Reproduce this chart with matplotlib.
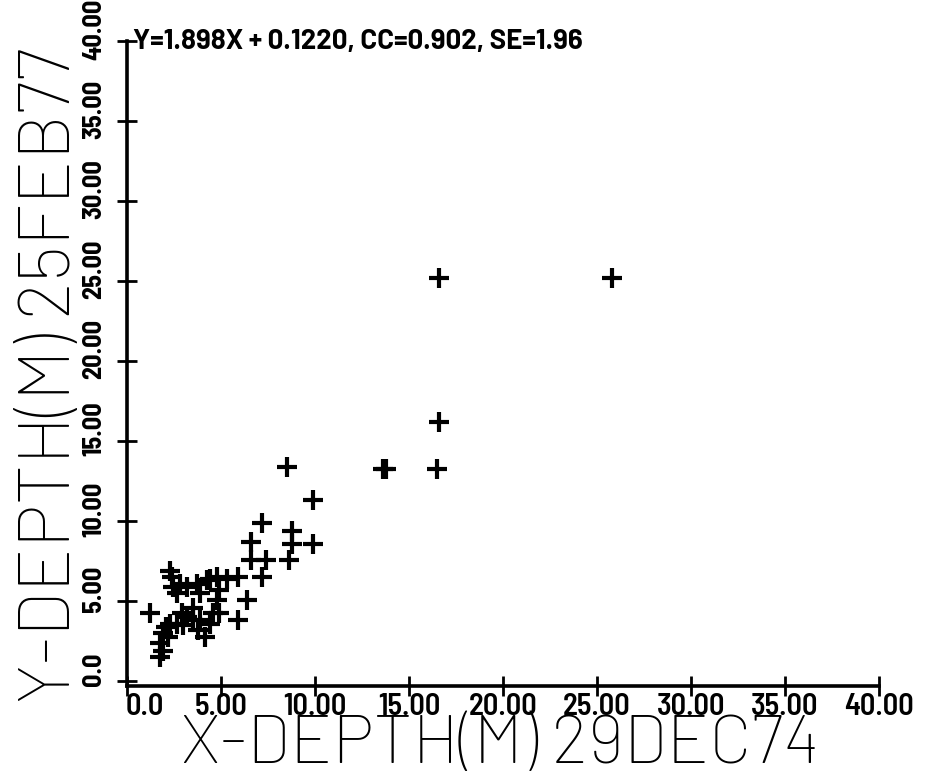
import matplotlib
matplotlib.use("Agg")
import matplotlib.pyplot as plt
import matplotlib.transforms as mtransforms

title_text = "Y=1.898X + 0.1220, CC=0.902, SE=1.96"
x_label = "X-DEPTH(M) 29DEC74"
y_label = "Y-DEPTH(M) 25FEB77"
tick_values = [0, 5, 10, 15, 20, 25, 30, 35, 40]
tick_labels = ["0.0", "5.00", "10.00", "15.00", "20.00", "25.00", "30.00", "35.00", "40.00"]

x_vals = [16.6, 25.8, 16.6, 16.5, 13.6, 13.8, 8.5, 9.9, 9.9, 8.8, 8.8, 8.6, 7.2, 6.6,
          6.6, 7.4, 7.2, 5.9, 6.4, 5.9, 4.8, 4.4, 4.9, 4.8, 4.6, 4.9, 4.4, 4.15, 3.8,
          3.7, 3.2, 2.8, 2.4, 2.3, 2.45, 2.65, 3.5, 3.5, 2.9, 2.65, 2.3, 2.1, 1.9, 2.2,
          1.75, 1.9, 1.75, 1.2, 3.9, 3.9, 4.25, 5.3, 3.2, 3.0]
y_vals = [25.2, 25.2, 16.2, 13.25, 13.25, 13.25, 13.4, 11.3, 8.6, 9.4, 8.6, 7.6, 9.9, 8.7,
          7.6, 7.6, 6.5, 6.5, 5.1, 3.8, 6.5, 6.4, 5.7, 5.1, 4.25, 4.25, 3.6, 2.75, 3.2,
          6.1, 5.9, 6.1, 6.5, 6.9, 5.9, 5.5, 4.6, 3.8, 4.25, 3.6, 3.6, 3.4, 3.0, 2.75,
          2.4, 1.9, 1.5, 4.25, 5.5, 3.8, 6.3, 6.4, 4.0, 3.5]

TICKFONT = ["Barlow Semi Condensed", "Barlow Condensed", "DejaVu Sans"]
WIDEFONT = ["Barlow", "Barlow Semi Condensed", "DejaVu Sans"]

fig = plt.figure(figsize=(9.32, 7.79), dpi=100)
ax = fig.add_axes([127/932, (779-686)/779, (879-127)/932, (686-41)/779])
ax.plot(x_vals, y_vals, linestyle="none", marker="+", markersize=15,
        markeredgewidth=3.0, color="black")

ax.set_xlim(0, 40)
ax.set_ylim(-0.3, 40)
for s in ["top", "right"]:
    ax.spines[s].set_visible(False)
for s in ["left", "bottom"]:
    ax.spines[s].set_linewidth(2.6)
    ax.spines[s].set_color("black")

ax.set_xticks(tick_values)
ax.set_xticklabels(tick_labels, fontfamily=TICKFONT, fontsize=22, fontweight="semibold")
ax.set_yticks(tick_values)
ax.set_yticklabels(tick_labels, fontfamily=TICKFONT, fontsize=19, fontweight="bold",
                   rotation=90, va="center")
ax.tick_params(axis="both", direction="inout", length=14, width=2, color="black")
ax.tick_params(axis="x", pad=-2)
ax.tick_params(axis="y", pad=8)

# small shifts of tick labels
xl = ax.get_xticklabels()
off0 = mtransforms.ScaledTranslation(18/100, 0, fig.dpi_scale_trans)
xl[0].set_transform(xl[0].get_transform() + off0)
offy = mtransforms.ScaledTranslation(0, 12/100, fig.dpi_scale_trans)
for lab in ax.get_yticklabels():
    lab.set_transform(lab.get_transform() + offy)

fig.text(0.5 * (165 + 835) / 932, (779 - 763) / 779, x_label, fontfamily=WIDEFONT,
         fontsize=50, fontweight="light", ha="center", va="baseline")
fig.text(70 / 932, (779 - 375) / 779, y_label, fontfamily=WIDEFONT,
         fontsize=52, fontweight="light", ha="center", va="baseline",
         rotation=90, rotation_mode="anchor")
fig.text(133 / 932, (779 - 42) / 779, title_text, fontfamily=WIDEFONT,
         fontsize=20, fontweight="bold", ha="left", va="center")

fig.savefig("out.png", dpi=100, facecolor="white")
